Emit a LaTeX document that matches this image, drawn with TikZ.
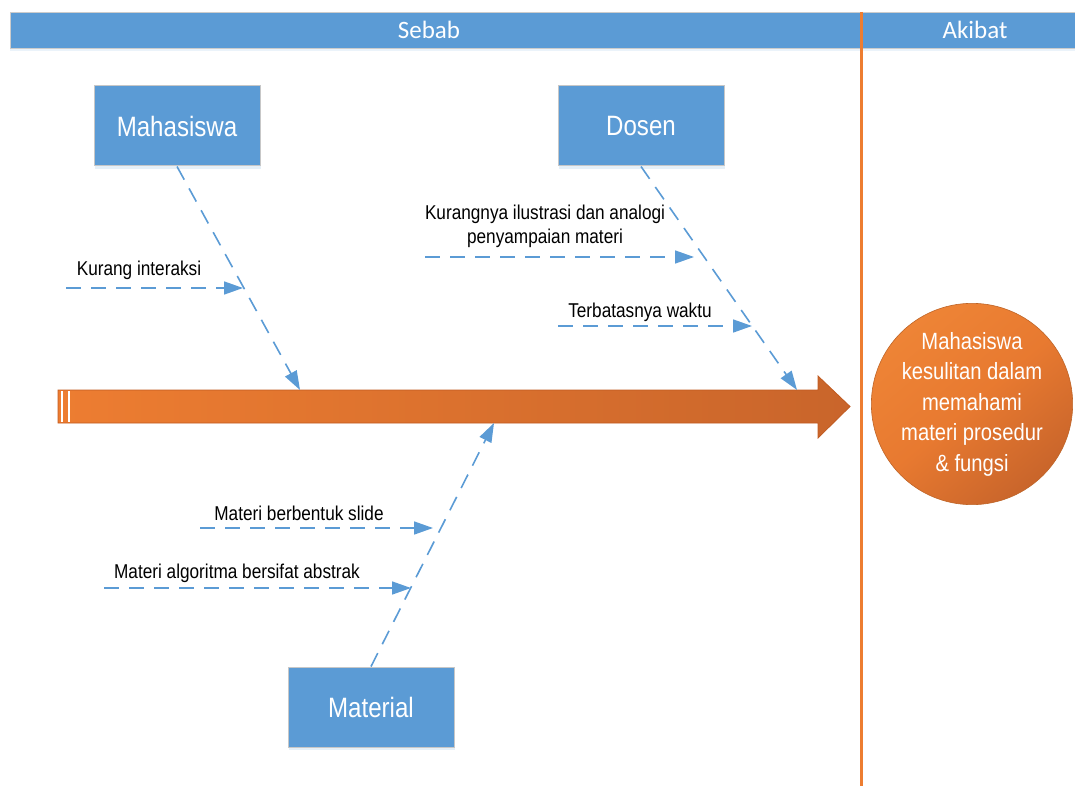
\documentclass[tikz,border=0pt]{standalone}
\usepackage{fontspec}
\usetikzlibrary{arrows.meta,shadows}
\newfontfamily\narfont{Liberation Sans}[FakeStretch=0.86]
\newfontfamily\hdrfont{Carlito}
\definecolor{bluef}{HTML}{5B9BD5}
\definecolor{orangeL}{HTML}{EE8436}
\definecolor{orangeM}{HTML}{ED7D31}
\definecolor{orangeD}{HTML}{C9652B}
\definecolor{orangeB}{HTML}{C05A20}
\tikzset{
  catbox/.style={rectangle, fill=bluef, draw=black!22, line width=1pt,
    minimum width=166pt, minimum height=80pt, text=white,
    font=\narfont\fontsize{28}{30}\selectfont,
    drop shadow={shadow xshift=1pt, shadow yshift=-3pt, fill=bluef!25, opacity=0.6}},
  lbl/.style={text=black, font=\narfont\fontsize{20}{24}\selectfont, align=center, inner sep=0pt},
  branch/.style={draw=bluef, line width=1.6pt, dash pattern=on 15pt off 10pt,
    -{Triangle[length=19pt,width=13pt]}},
  hdrtext/.style={text=white, font=\hdrfont\fontsize{25}{28}\selectfont, inner sep=0pt},
}
\begin{document}
\begin{tikzpicture}[x=1pt,y=-1pt]
\useasboundingbox (0,0) rectangle (1075,786);
% header bar
\node[rectangle, fill=bluef, draw=black!20, line width=0.8pt, minimum width=1065pt, minimum height=36pt,
  anchor=north west, inner sep=0pt,
  drop shadow={shadow xshift=0pt, shadow yshift=-3pt, fill=bluef!20, opacity=0.6}] (hdr) at (10,12) {};
\node[hdrtext] (sebab) at (429,30) {Sebab};
\node[hdrtext] (akibat) at (975,30) {Akibat};
% divider
\coordinate (divtop) at (861,12);
\coordinate (divbot) at (861,786);
\draw[orangeM, line width=3pt] (divtop) -- (divbot);
% spine
\shade[left color=orangeM, right color=orangeD, draw=orangeB, line width=0.8pt]
  (58,390) -- (818,390) -- (818,376) -- (850,406.5) -- (818,438) -- (818,423) -- (58,423) -- cycle;
\draw[white, line width=1.2pt] (62,391) -- (62,422);
\draw[white, line width=1.2pt] (69,391) -- (69,422);
\coordinate (spineM) at (300,390);
\coordinate (spineD) at (797,390);
\coordinate (spineT) at (494,423);
% category boxes
\node[catbox] (mah) at (177,126) {Mahasiswa};
\node[catbox] (dos) at (641,126) {Dosen};
\node[catbox] (mat) at (371,707) {Material};
% main branches
\draw[branch] (mah.south) -- (spineM);
\draw[branch] (dos.south) -- (spineD);
\draw[branch] (mat.north) -- (spineT);
% sub causes
\node[lbl] (l1) at (139,270) {Kurang interaksi};
\coordinate (a1s) at (66,288); \coordinate (a1e) at (243,288);
\draw[branch] (a1s) -- (a1e);
\node[lbl] (l2) at (545,226) {Kurangnya ilustrasi dan analogi\\penyampaian materi};
\coordinate (a2s) at (425,257); \coordinate (a2e) at (694,257);
\draw[branch] (a2s) -- (a2e);
\node[lbl] (l3) at (640,312) {Terbatasnya waktu};
\coordinate (a3s) at (558,326); \coordinate (a3e) at (752,326);
\draw[branch] (a3s) -- (a3e);
\node[lbl] (l4) at (299,513) {Materi berbentuk slide};
\coordinate (a4s) at (200,528); \coordinate (a4e) at (433,528);
\draw[branch] (a4s) -- (a4e);
\node[lbl] (l5) at (237,573) {Materi algoritma bersifat abstrak};
\coordinate (a5s) at (104,588); \coordinate (a5e) at (411,588);
\draw[branch] (a5s) -- (a5e);
% effect
\node[circle, minimum size=194pt, inner sep=0pt, top color=orangeL, bottom color=orangeD,
  middle color=orangeM!85!orangeD, shading angle=40,
  draw=orangeM!80!black, line width=0.6pt, text=white, align=center,
  font=\narfont\fontsize{23.5}{30.5}\selectfont] (eff) at (972,404)
  {Mahasiswa\\kesulitan dalam\\memahami\\materi prosedur\\\& fungsi};
\end{tikzpicture}
\end{document}
